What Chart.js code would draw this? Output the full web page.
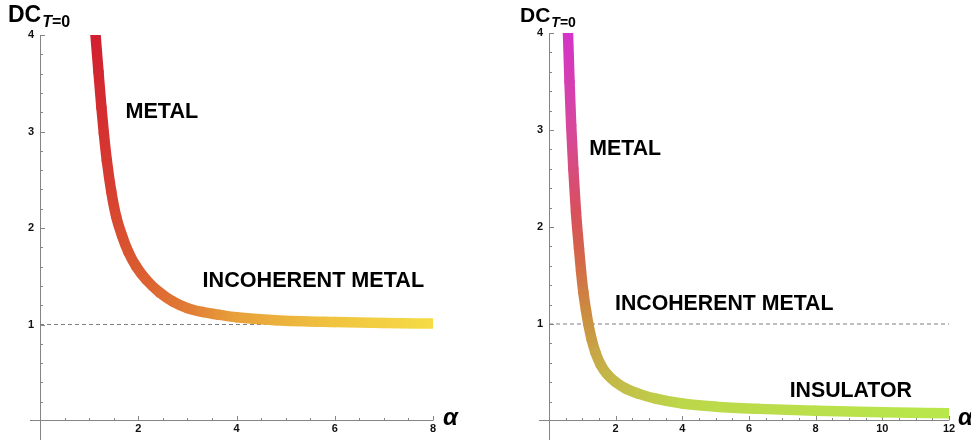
<!DOCTYPE html>
<html>
<head>
<meta charset="utf-8">
<script src="https://cdn.jsdelivr.net/npm/chart.js@4"></script>
<style>
  body { margin: 0; background: #fff; }
  #wrap { position: relative; width: 971px; height: 440px; overflow: hidden; }
  #wrap canvas { position: absolute; top: 0; }
  #left { left: 0; }
  #right { left: 485px; }
</style>
</head>
<body>
<div id="wrap">
  <canvas id="left" width="485" height="440"></canvas>
  <canvas id="right" width="486" height="440"></canvas>
</div>
<script>
// ─── DATA ───
const leftAlpha = [1.13, 1.19, 1.25, 1.30, 1.36, 1.45, 1.55, 1.67, 1.80, 1.96, 2.17, 2.44, 2.70, 3.00, 3.30, 3.66, 4.00, 4.80, 6.00, 7.00, 8.00];
const leftDC    = [4.00, 3.62, 3.25, 2.98, 2.70, 2.38, 2.12, 1.92, 1.75, 1.60, 1.46, 1.33, 1.24, 1.17, 1.13, 1.10, 1.075, 1.045, 1.025, 1.015, 1.01];

const rightAlpha = [0.57, 0.615, 0.665, 0.73, 0.81, 0.90, 0.96, 1.03, 1.11, 1.18, 1.28, 1.40, 1.55, 1.75, 2.00, 2.30, 2.70, 3.20, 4.00, 5.00, 6.30, 8.00, 10.00, 12.00];
const rightDC    = [4.00, 3.50, 3.05, 2.60, 2.15, 1.78, 1.55, 1.33, 1.14, 1.00, 0.84, 0.70, 0.58, 0.48, 0.40, 0.335, 0.28, 0.23, 0.18, 0.148, 0.125, 0.105, 0.09, 0.08];

const referenceDC = 1;          // dashed line
const leftXTicks  = [2, 4, 6, 8];
const rightXTicks = [2, 4, 6, 8, 10, 12];
const yTicks      = [1, 2, 3, 4];

const leftLabels  = ['METAL', 'INCOHERENT METAL'];
const rightLabels = ['METAL', 'INCOHERENT METAL', 'INSULATOR'];

// ─── STYLE ───
const AXIS_GREY = '#858585';
const FONT = '"Liberation Sans", Arial, sans-serif';
const leftStops  = [[0, '#d21f30'], [0.25, '#d63a30'], [0.43, '#da5a30'], [0.55, '#e17a35'], [0.64, '#e8a03a'], [0.82, '#f0c440'], [1, '#f5dc45']];
const rightStops = [[0, '#d434c8'], [0.14, '#d6489c'], [0.28, '#d85250'], [0.40, '#cc8a40'], [0.50, '#c4b648'], [0.62, '#bcd84a'], [1, '#b8e84c']];

function hexToRgb(h) {
    return [parseInt(h.slice(1, 3), 16), parseInt(h.slice(3, 5), 16), parseInt(h.slice(5, 7), 16)];
}

function colorAt(stops, t) {
    t = Math.max(0, Math.min(1, t));
    for (let i = 1; i < stops.length; i++) {
        if (t <= stops[i][0]) {
            const [t0, c0] = stops[i - 1], [t1, c1] = stops[i];
            const f = (t - t0) / (t1 - t0);
            const a = hexToRgb(c0), b = hexToRgb(c1);
            return 'rgb(' + a.map((v, k) => Math.round(v + (b[k] - v) * f)).join(',') + ')';
        }
    }
    return stops[stops.length - 1][1];
}

// fraction of the arc length (in pixels) reached at each point
function arcFractions(points) {
    const cum = [0];
    for (let i = 1; i < points.length; i++) {
        cum.push(cum[i - 1] + Math.hypot(points[i].x - points[i - 1].x, points[i].y - points[i - 1].y));
    }
    const total = cum[cum.length - 1] || 1;
    return cum.map(v => v / total);
}

// ─── BUILD ONE PANEL ───
function makePanel(id, cfg) {
    const axesPlugin = {
        id: 'mmaAxes',
        beforeDatasetsDraw(chart) {
            const { ctx, chartArea: a, scales: { x, y } } = chart;
            const ax = Math.round(x.getPixelForValue(0)) + 0.5;
            const ay = Math.round(y.getPixelForValue(0)) - 0.5;
            ctx.save();
            ctx.strokeStyle = AXIS_GREY;
            ctx.lineWidth = 1;
            ctx.beginPath();
            ctx.moveTo(a.left - 10, ay); ctx.lineTo(a.right, ay);
            ctx.moveTo(ax, a.top); ctx.lineTo(ax, chart.height);
            // y ticks (inside), minor every 0.2
            for (let k = 1; k <= 20; k++) {
                const py = Math.round(y.getPixelForValue(k / 5)) + 0.5;
                const len = (k % 5 === 0) ? 4.5 : 2.5;
                ctx.moveTo(ax, py); ctx.lineTo(ax + len, py);
            }
            // x ticks (inside), minor every 0.5
            for (let k = 1; k <= cfg.xMax * 2; k++) {
                const px = Math.round(x.getPixelForValue(k / 2)) + 0.5;
                const len = (k % 4 === 0) ? 4.5 : 2.5;
                ctx.moveTo(px, ay); ctx.lineTo(px, ay - len);
            }
            ctx.stroke();
            ctx.restore();
        },
        afterDatasetsDraw(chart) {
            const { ctx, chartArea: a, scales: { x, y } } = chart;
            ctx.save();
            ctx.fillStyle = '#000';
            ctx.textBaseline = 'alphabetic';
            ctx.textAlign = 'left';
            // region labels
            ctx.font = 'bold ' + cfg.labelSize + 'px ' + FONT;
            cfg.labels.forEach((txt, i) => {
                const p = cfg.labelPos[i];
                ctx.fillText(txt, x.getPixelForValue(p[0]), y.getPixelForValue(p[1]));
            });
            // x axis name
            ctx.font = 'italic bold 24px ' + FONT;
            ctx.fillText('α', a.right + cfg.alphaGap, 425);
            // y axis name DC_{T=0}
            const tx = a.left - cfg.titleBack;
            ctx.font = 'bold ' + cfg.titleSize + 'px ' + FONT;
            ctx.fillText('DC', tx, 22);
            let sx = tx + ctx.measureText('DC').width + 1;
            ctx.font = 'italic bold ' + cfg.subSize + 'px ' + FONT;
            ctx.fillText('T', sx, 27);
            sx += ctx.measureText('T').width;
            ctx.font = 'bold ' + cfg.subSize + 'px ' + FONT;
            ctx.fillText('=0', sx, 27);
            ctx.restore();
        }
    };

    return new Chart(document.getElementById(id), {
        type: 'line',
        data: {
            datasets: [
                {
                    data: cfg.alpha.map((a, i) => ({ x: a, y: cfg.dc[i] })),
                    borderWidth: 10.5,
                    borderCapStyle: 'round',
                    borderJoinStyle: 'round',
                    pointRadius: 0,
                    cubicInterpolationMode: 'monotone',
                    fill: false,
                    clip: 0,
                    segment: {
                        borderColor: c => {
                            const pts = c.chart.getDatasetMeta(c.datasetIndex).data;
                            const f = arcFractions(pts);
                            const g = c.chart.ctx.createLinearGradient(c.p0.x, c.p0.y, c.p1.x, c.p1.y);
                            g.addColorStop(0, colorAt(cfg.stops, f[c.p0DataIndex]));
                            g.addColorStop(1, colorAt(cfg.stops, f[c.p1DataIndex]));
                            return g;
                        },
                        // keeps every piece as its own stroke
                        borderDashOffset: c => c.p0DataIndex * 0.001
                    }
                },
                {
                    data: [{ x: 0, y: referenceDC }, { x: cfg.xMax, y: referenceDC }],
                    borderColor: '#7f7f7f',
                    borderWidth: 1,
                    borderDash: [4, 3],
                    pointRadius: 0,
                    fill: false,
                    clip: 0
                }
            ]
        },
        options: {
            responsive: false,
            animation: false,
            events: [],
            layout: { padding: { left: 0, top: cfg.top, right: cfg.padRight, bottom: 0 } },
            plugins: { legend: { display: false }, tooltip: { enabled: false } },
            scales: {
                x: {
                    type: 'linear', min: 0, max: cfg.xMax,
                    afterFit: s => { s.height = 19; },
                    afterBuildTicks: s => { s.ticks = cfg.xTicks.map(v => ({ value: v })); },
                    grid: { display: false, drawTicks: false },
                    border: { display: false },
                    ticks: { font: { family: FONT, weight: 'bold', size: 11 }, color: '#111', padding: 1, maxRotation: 0, autoSkip: false }
                },
                y: {
                    type: 'linear', min: 0, max: 4,
                    afterFit: s => { s.width = cfg.yWidth; },
                    afterBuildTicks: s => { s.ticks = yTicks.map(v => ({ value: v })); },
                    grid: { display: false, drawTicks: false },
                    border: { display: false },
                    ticks: { font: { family: FONT, weight: 'bold', size: 11 }, color: '#111', padding: 6, autoSkip: false }
                }
            }
        },
        plugins: [axesPlugin]
    });
}

makePanel('left', {
    alpha: leftAlpha, dc: leftDC, xMax: 8, xTicks: leftXTicks, stops: leftStops,
    top: 35, padRight: 52, yWidth: 40,
    labels: leftLabels, labelPos: [[1.74, 3.14], [3.31, 1.39]], labelSize: 21.6,
    alphaGap: 10, titleBack: 32, titleSize: 23, subSize: 16
});

makePanel('right', {
    alpha: rightAlpha, dc: rightDC, xMax: 12, xTicks: rightXTicks, stops: rightStops,
    top: 33, padRight: 22, yWidth: 64,
    labels: rightLabels, labelPos: [[1.21, 2.74], [1.98, 1.14], [7.22, 0.25]], labelSize: 21.3,
    alphaGap: 9, titleBack: 29, titleSize: 21, subSize: 14
});
</script>
</body>
</html>
